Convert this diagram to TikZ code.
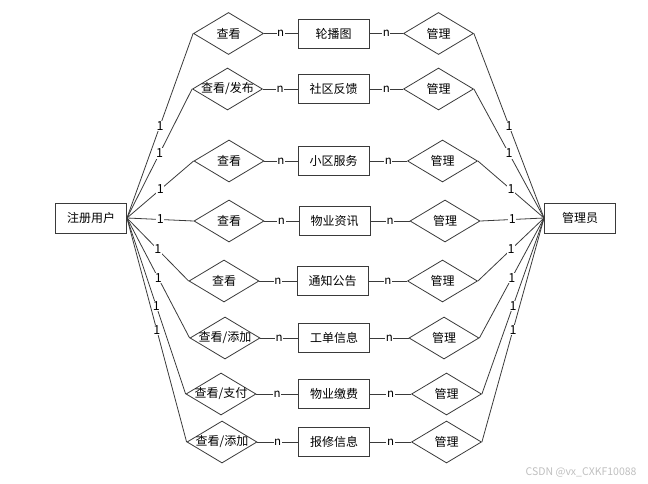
\documentclass[tikz,border=0pt]{standalone}
\usepackage{fontspec}
\setmainfont{Noto Sans CJK SC}
\usetikzlibrary{shapes.geometric}
\definecolor{ln}{HTML}{3A3A3A}
\tikzset{
  ent/.style={draw=ln, line width=0.9pt, minimum width=71pt, minimum height=29pt, inner sep=0pt, font=\fontsize{12}{13}\selectfont},
  rel/.style={draw=ln, line width=0.8pt, diamond, minimum width=70pt, minimum height=42pt, inner sep=0pt},
  rtxt/.style={inner sep=0pt, font=\fontsize{12}{13}\selectfont},
  conn/.style={draw=ln, line width=0.8pt},
  card/.style={fill=white, inner sep=0.6pt, font=\fontsize{11.5}{12}\selectfont},
  cardone/.style={fill=white, inner sep=0.6pt, font=\fontsize{12.5}{13}\selectfont},
}
\begin{document}
\begin{tikzpicture}[x=1pt,y=-1pt]
\useasboundingbox (0,0) rectangle (648,484);
\node[ent, minimum height=30pt] (user) at (91,218) {注册用户};
\node[ent, minimum height=30pt] (admin) at (580,218) {管理员};
\foreach \i/\y/\lx/\ex/\rx/\lt/\et in {
  1/33.5/228.5/333.5/438.5/查看/轮播图,
  2/89/227.5/333.5/438.5/查看\slash 发布/社区反馈,
  3/161/229/333.5/442.5/查看/小区服务,
  4/221/229/334.5/445/查看/物业资讯,
  5/281/224/332.5/442.5/查看/通知公告,
  6/338/225/334/444/查看\slash 添加/工单信息,
  7/394/221/334/446.5/查看\slash 支付/物业缴费,
  8/442/222/334/446.5/查看\slash 添加/报修信息}{
  \node[rel] (l\i) at (\lx,\y) {};
  \node[rtxt] (lt\i) at (l\i) {\lt};
  \node[ent] (e\i) at (\ex,\y) {\et};
  \node[rel] (r\i) at (\rx,\y) {};
  \node[rtxt] (rt\i) at (r\i) {管理};
  \draw[conn] (user.east) -- node[cardone] {1} (l\i.west);
  \draw[conn] (l\i.east) -- node[card] {n} (e\i.west);
  \draw[conn] (e\i.east) -- node[card] {n} (r\i.west);
  \draw[conn] (r\i.east) -- node[cardone] {1} (admin.west);
}
\node[text=black!25, font=\fontsize{10.5}{11}\selectfont, anchor=east] (wm) at (640,472) {CSDN @vx\_CXKF10088};
\end{tikzpicture}
\end{document}
